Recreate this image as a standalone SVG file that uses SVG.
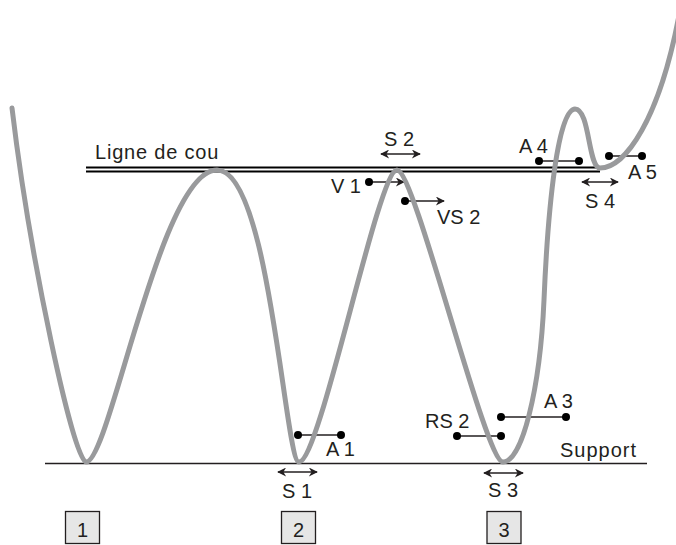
<svg xmlns="http://www.w3.org/2000/svg" width="676" height="545" viewBox="0 0 676 545">
<style>
text{font-family:"Liberation Sans",Arial,sans-serif;font-size:20px;fill:#231f20}
.ln{stroke:#231f20;stroke-width:1.3;fill:none}
.arr{stroke:#231f20;stroke-width:1.4;fill:none}
.dot{fill:#000}
.box{fill:#e6e6e6;stroke:#231f20;stroke-width:1.3}
.curve{fill:none;stroke:#999a9c;stroke-width:5;stroke-linejoin:round;stroke-linecap:round}
</style>
<defs>
<marker id="ah" viewBox="0 0 10 10" refX="9" refY="5" markerWidth="10" markerHeight="9" markerUnits="userSpaceOnUse" orient="auto-start-reverse">
<path d="M0,0 L10,5 L0,10 L3,5 z" fill="#231f20"/>
</marker>
</defs>
<g id="baselines">
<line class="ln" x1="45" y1="463.5" x2="647" y2="463.5"/>
<line x1="86" y1="167.5" x2="600" y2="167.5" stroke="#000" stroke-width="1.8"/>
<line x1="86" y1="171.5" x2="600" y2="171.5" stroke="#000" stroke-width="1.8"/>
<text x="95" y="159" style="letter-spacing:0.8px">Ligne de cou</text>
<text x="560" y="457" style="letter-spacing:1px">Support</text>
</g>
<g id="connectors">
<line class="ln" x1="539" y1="161" x2="579" y2="161"/>
<line class="ln" x1="609" y1="156" x2="642" y2="156"/>
<line class="ln" x1="298" y1="435" x2="341" y2="435"/>
<line class="ln" x1="501" y1="417" x2="566" y2="417"/>
<line class="ln" x1="457" y1="436" x2="501" y2="436"/>
<line class="arr" x1="381" y1="154" x2="420" y2="154" marker-start="url(#ah)" marker-end="url(#ah)"/>
<line class="arr" x1="369" y1="182" x2="404" y2="182" marker-end="url(#ah)"/>
<line class="arr" x1="405" y1="201" x2="444" y2="201" marker-end="url(#ah)"/>
<line class="arr" x1="582" y1="182" x2="618" y2="182" marker-start="url(#ah)" marker-end="url(#ah)"/>
<line class="arr" x1="278" y1="472" x2="317" y2="472" marker-start="url(#ah)" marker-end="url(#ah)"/>
<line class="arr" x1="484" y1="473" x2="523" y2="473" marker-start="url(#ah)" marker-end="url(#ah)"/>
</g>
<g id="curve">
<path class="curve" d="M12,108 C30,260 74,462 86,462 C110,462 160,170 217,170 C270,170 285,462 299,462 C320,462 378,170 397,170 C415,170 485,462 503,462 C522,462 540,390 544,300 C548,205 558,109 575,109 C590,109 588,168 600,168 C625,168 660,120 680,10"/>
</g>
<g id="dots">
<circle class="dot" cx="539" cy="161" r="4"/>
<circle class="dot" cx="579" cy="161" r="4"/>
<circle class="dot" cx="609" cy="156" r="4"/>
<circle class="dot" cx="642" cy="156" r="4"/>
<circle class="dot" cx="298" cy="435" r="4"/>
<circle class="dot" cx="341" cy="435" r="4"/>
<circle class="dot" cx="501" cy="417" r="4"/>
<circle class="dot" cx="566" cy="417" r="4"/>
<circle class="dot" cx="457" cy="436" r="4"/>
<circle class="dot" cx="501" cy="436" r="4"/>
<circle class="dot" cx="369" cy="182" r="4"/>
<circle class="dot" cx="405" cy="201" r="4"/>
</g>
<g id="labels">
<text x="384" y="146">S 2</text>
<text x="361" y="193" text-anchor="end">V 1</text>
<text x="437" y="224">VS 2</text>
<text x="519" y="153">A 4</text>
<text x="628" y="179">A 5</text>
<text x="585" y="208">S 4</text>
<text x="326" y="456">A 1</text>
<text x="544" y="408">A 3</text>
<text x="425" y="428">RS 2</text>
<text x="282" y="498">S 1</text>
<text x="488" y="497">S 3</text>
</g>
<g id="box1">
<rect class="box" x="65.5" y="511.5" width="34" height="32"/>
<text x="82.5" y="537" text-anchor="middle">1</text>
</g>
<g id="box2">
<rect class="box" x="281.5" y="511.5" width="34" height="32"/>
<text x="298.5" y="537" text-anchor="middle">2</text>
</g>
<g id="box3">
<rect class="box" x="487" y="511.5" width="34" height="32"/>
<text x="504" y="537" text-anchor="middle">3</text>
</g>
</svg>
